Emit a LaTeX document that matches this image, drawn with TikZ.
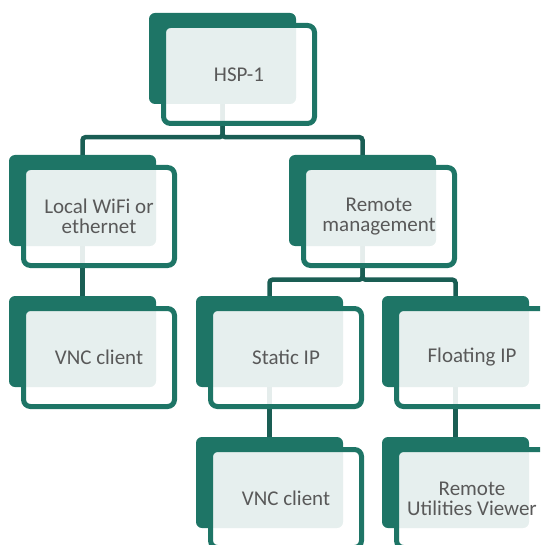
\documentclass[tikz,border=0pt]{standalone}
\usepackage{fontspec}
\setmainfont{Carlito}
\usetikzlibrary{backgrounds}
\definecolor{boxteal}{HTML}{1E7566}
\definecolor{linkteal}{HTML}{1A5E54}
\definecolor{labelgray}{HTML}{595959}

\begin{document}
\begin{tikzpicture}[x=1pt,y=-1pt,
        back/.style={fill=boxteal,rounded corners=6pt,minimum width=147pt,minimum height=91pt,inner sep=0pt},
        front/.style={draw=boxteal,line width=5pt,fill=white,fill opacity=0.89,text opacity=1,
          rounded corners=7pt,minimum width=151pt,minimum height=98pt,inner sep=0pt,
          align=center,text=labelgray,font=\fontsize{21}{20}\selectfont},
        link/.style={draw=linkteal,line width=4.5pt,rounded corners=3pt}]
        \useasboundingbox (0,0) rectangle (540,545);
        \clip (0,0) rectangle (540,545);
        \node[back] (hsp) at (222.5,58.5) {};
        \node[front] (hsp-t) at ([shift={(16.5,16)}]hsp.center) {HSP-1};
        \node[back] (wifi) at (82.5,200.5) {};
        \node[front] (wifi-t) at ([shift={(16.5,16)}]wifi.center) {Local WiFi or\\ethernet};
        \node[back] (remote) at (362.5,200.5) {};
        \node[front] (remote-t) at ([shift={(16.5,16)}]remote.center) {Remote\\management};
        \node[back] (vnca) at (82.5,341.5) {};
        \node[front] (vnca-t) at ([shift={(16.5,16)}]vnca.center) {VNC client};
        \node[back] (static) at (269.5,341.5) {};
        \node[front] (static-t) at ([shift={(16.5,16)}]static.center) {Static IP};
        \node[back] (float) at (455.5,341.5) {};
        \node[front] (float-t) at ([shift={(16.5,16)}]float.center) {Floating IP};
        \node[back] (vncb) at (269.5,482.5) {};
        \node[front] (vncb-t) at ([shift={(16.5,16)}]vncb.center) {VNC client};
        \node[back] (ruv) at (455.5,482.5) {};
        \node[front] (ruv-t) at ([shift={(16.5,16)}]ruv.center) {Remote\\Utilities Viewer};
        % connectors run under the boxes
        \begin{scope}[on background layer]
          \draw[link] (hsp.south) -- ++(0,33) -| (wifi.north);
          \draw[link] (hsp.south) -- ++(0,33) -| (remote.north);
          \draw[link] (remote.south) -- ++(0,33.5) -| (static.north);
          \draw[link] (remote.south) -- ++(0,33.5) -| (float.north);
          \draw[link] (wifi.south) -- (vnca.north);
          \draw[link] (static.south) -- (vncb.north);
          \draw[link] (float.south) -- (ruv.north);
        \end{scope}
      \end{tikzpicture}
\end{document}
